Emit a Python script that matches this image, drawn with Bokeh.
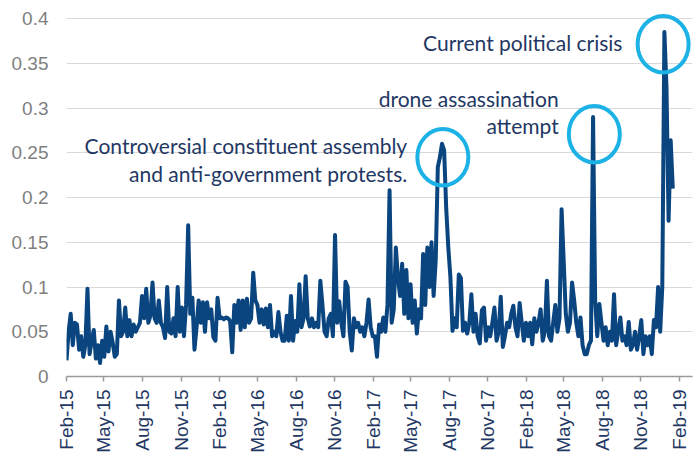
import math
import pandas as pd
from bokeh.plotting import figure
from bokeh.models import Range1d, FixedTicker, DatetimeTickFormatter
from bokeh.core.properties import value
from bokeh.embed import file_html
from bokeh.resources import INLINE

# ---- data: index value, one reading every 5 days from 1 Feb 2015 ----
start_date = "2015-02-01"
step_days = 5
index_values = [
    0.018, 0.05, 0.07, 0.035, 0.06, 0.058, 0.03, 0.045, 0.022, 0.035,
    0.098, 0.025, 0.04, 0.052, 0.02, 0.035, 0.015, 0.04, 0.022, 0.056,
    0.028, 0.05, 0.038, 0.022, 0.025, 0.085, 0.045, 0.05, 0.077, 0.045,
    0.063, 0.045, 0.058, 0.05, 0.055, 0.06, 0.09, 0.065, 0.098, 0.06,
    0.068, 0.105, 0.065, 0.06, 0.085, 0.06, 0.055, 0.043, 0.1, 0.05,
    0.048, 0.065, 0.045, 0.1, 0.05, 0.077, 0.045, 0.08, 0.169, 0.07,
    0.088, 0.03, 0.055, 0.085, 0.06, 0.083, 0.05, 0.083, 0.065, 0.075,
    0.044, 0.04, 0.088, 0.065, 0.066, 0.064, 0.066, 0.065, 0.062, 0.027,
    0.08, 0.06, 0.085, 0.052, 0.085, 0.055, 0.087, 0.06, 0.065, 0.116,
    0.085, 0.08, 0.06, 0.075, 0.058, 0.076, 0.055, 0.08, 0.045, 0.05,
    0.045, 0.072, 0.05, 0.04, 0.04, 0.068, 0.04, 0.09, 0.04, 0.062,
    0.05, 0.103, 0.055, 0.065, 0.112, 0.065, 0.056, 0.065, 0.055, 0.06,
    0.055, 0.107, 0.08, 0.05, 0.045, 0.065, 0.07, 0.045, 0.158, 0.06,
    0.084, 0.06, 0.045, 0.106, 0.1, 0.05, 0.029, 0.065, 0.055, 0.06,
    0.05, 0.055, 0.045, 0.06, 0.086, 0.055, 0.045, 0.045, 0.022, 0.058,
    0.05, 0.066, 0.05, 0.08, 0.208, 0.06, 0.075, 0.144, 0.11, 0.09,
    0.126, 0.07, 0.119, 0.065, 0.103, 0.06, 0.085, 0.048, 0.075, 0.065,
    0.137, 0.08, 0.144, 0.1, 0.15, 0.09, 0.13, 0.234, 0.245, 0.26,
    0.253, 0.188, 0.144, 0.111, 0.051, 0.065, 0.055, 0.114, 0.11, 0.051,
    0.06, 0.048, 0.06, 0.092, 0.05, 0.07, 0.045, 0.037, 0.074, 0.077,
    0.04, 0.055, 0.045, 0.06, 0.077, 0.04, 0.05, 0.089, 0.033, 0.045,
    0.06, 0.055, 0.07, 0.079, 0.055, 0.045, 0.082, 0.06, 0.04, 0.06,
    0.045, 0.06, 0.036, 0.065, 0.05, 0.06, 0.075, 0.04, 0.05, 0.107,
    0.045, 0.04, 0.06, 0.08, 0.05, 0.065, 0.187, 0.129, 0.07, 0.05,
    0.06, 0.105, 0.085, 0.06, 0.045, 0.066, 0.035, 0.025, 0.025, 0.035,
    0.04, 0.29, 0.085, 0.045, 0.081, 0.06, 0.04, 0.055, 0.035, 0.05,
    0.04, 0.092, 0.035, 0.05, 0.066, 0.04, 0.045, 0.035, 0.061, 0.03,
    0.035, 0.05, 0.03, 0.045, 0.063, 0.025, 0.045, 0.035, 0.045, 0.025,
    0.063, 0.055, 0.1, 0.05, 0.1, 0.385, 0.323, 0.174, 0.264, 0.21,
]

xtick_dates = ["2015-02-01", "2015-05-01", "2015-08-01", "2015-11-01",
               "2016-02-01", "2016-05-01", "2016-08-01", "2016-11-01",
               "2017-02-01", "2017-05-01", "2017-08-01", "2017-11-01",
               "2018-02-01", "2018-05-01", "2018-08-01", "2018-11-01",
               "2019-02-01"]
xtick_labels = ["Feb-15", "May-15", "Aug-15", "Nov-15", "Feb-16", "May-16",
                "Aug-16", "Nov-16", "Feb-17", "May-17", "Aug-17", "Nov-17",
                "Feb-18", "May-18", "Aug-18", "Nov-18", "Feb-19"]
ytick_values = [0, 0.05, 0.1, 0.15, 0.2, 0.25, 0.3, 0.35, 0.4]
ytick_labels = ["0", "0.05", "0.1", "0.15", "0.2", "0.25", "0.3", "0.35", "0.4"]

# annotations (text lines, anchored at right end / baseline)
note_text = ["Controversial constituent assembly", "and anti-government protests.",
             "drone assassination", "attempt", "Current political crisis"]
note_date = ["2017-04-23", "2017-04-23", "2018-04-19", "2018-04-19", "2018-09-18"]
note_value = [0.258, 0.227, 0.311, 0.280, 0.3735]

# highlight circles around the three peaks
ring_date = ["2017-07-17", "2018-07-13", "2018-12-24"]
ring_value = [0.245, 0.2707, 0.3713]

# ---- build ----
dates = pd.date_range(start=start_date, periods=len(index_values), freq=f"{step_days}D")

LINE = "#0A4580"
NAVY = "#1F3864"
RING = "#1CB2E6"

p = figure(frame_width=626, frame_height=366, x_axis_type="datetime",
           x_range=Range1d(pd.Timestamp("2015-02-01"), pd.Timestamp("2019-03-04")),
           y_range=Range1d(0, 0.40894),
           output_backend="svg", toolbar_location=None,
           min_border_left=66, min_border_right=4, min_border_top=10,
           min_border_bottom=88)
p.outline_line_color = None
p.background_fill_color = "white"
p.border_fill_color = "white"

p.line(dates, index_values, line_color=LINE, line_width=4, line_join="round")

p.ellipse(x=pd.to_datetime(ring_date), y=ring_value, width=51, height=56.5,
          width_units="screen", height_units="screen",
          fill_color=None, line_color=RING, line_width=4)

p.text(x=pd.to_datetime(note_date), y=note_value, text=note_text,
       text_font=value("Lato"), text_font_size="21px", text_color=NAVY,
       text_align="right", text_baseline="alphabetic")

# grids
p.xgrid.grid_line_color = None
p.ygrid.grid_line_color = "#D9D9D9"
p.ygrid.grid_line_width = 1

# y axis
p.yaxis.ticker = FixedTicker(ticks=ytick_values)
p.yaxis.major_label_overrides = dict(zip(ytick_values, ytick_labels))
p.yaxis.axis_line_color = None
p.yaxis.major_tick_line_color = None
p.yaxis.minor_tick_line_color = None
p.yaxis.major_tick_out = 0
p.yaxis.major_label_standoff = 18
p.yaxis.major_label_text_font = "Liberation Sans"
p.yaxis.major_label_text_font_size = "19px"
p.yaxis.major_label_text_color = "#7F7F7F"

# x axis
xt = [int(pd.Timestamp(d).value // 10**6) for d in xtick_dates]
p.xaxis.ticker = FixedTicker(ticks=xt)
p.xaxis.major_label_overrides = dict(zip(xt, xtick_labels))
p.xaxis.formatter = DatetimeTickFormatter(days="%b-%y", months="%b-%y", years="%b-%y")
p.xaxis.major_label_orientation = math.pi / 2
p.xaxis.axis_line_color = "#9A9A9A"
p.xaxis.axis_line_width = 1.5
p.xaxis.major_tick_line_color = "#9A9A9A"
p.xaxis.major_tick_line_width = 1.5
p.xaxis.major_tick_out = 5
p.xaxis.major_tick_in = 0
p.xaxis.minor_tick_line_color = None
p.xaxis.major_label_standoff = 8
p.xaxis.major_label_text_font = "Liberation Sans"
p.xaxis.major_label_text_font_size = "19px"
p.xaxis.major_label_text_color = NAVY

open("out.html", "w").write(file_html(p, INLINE))
